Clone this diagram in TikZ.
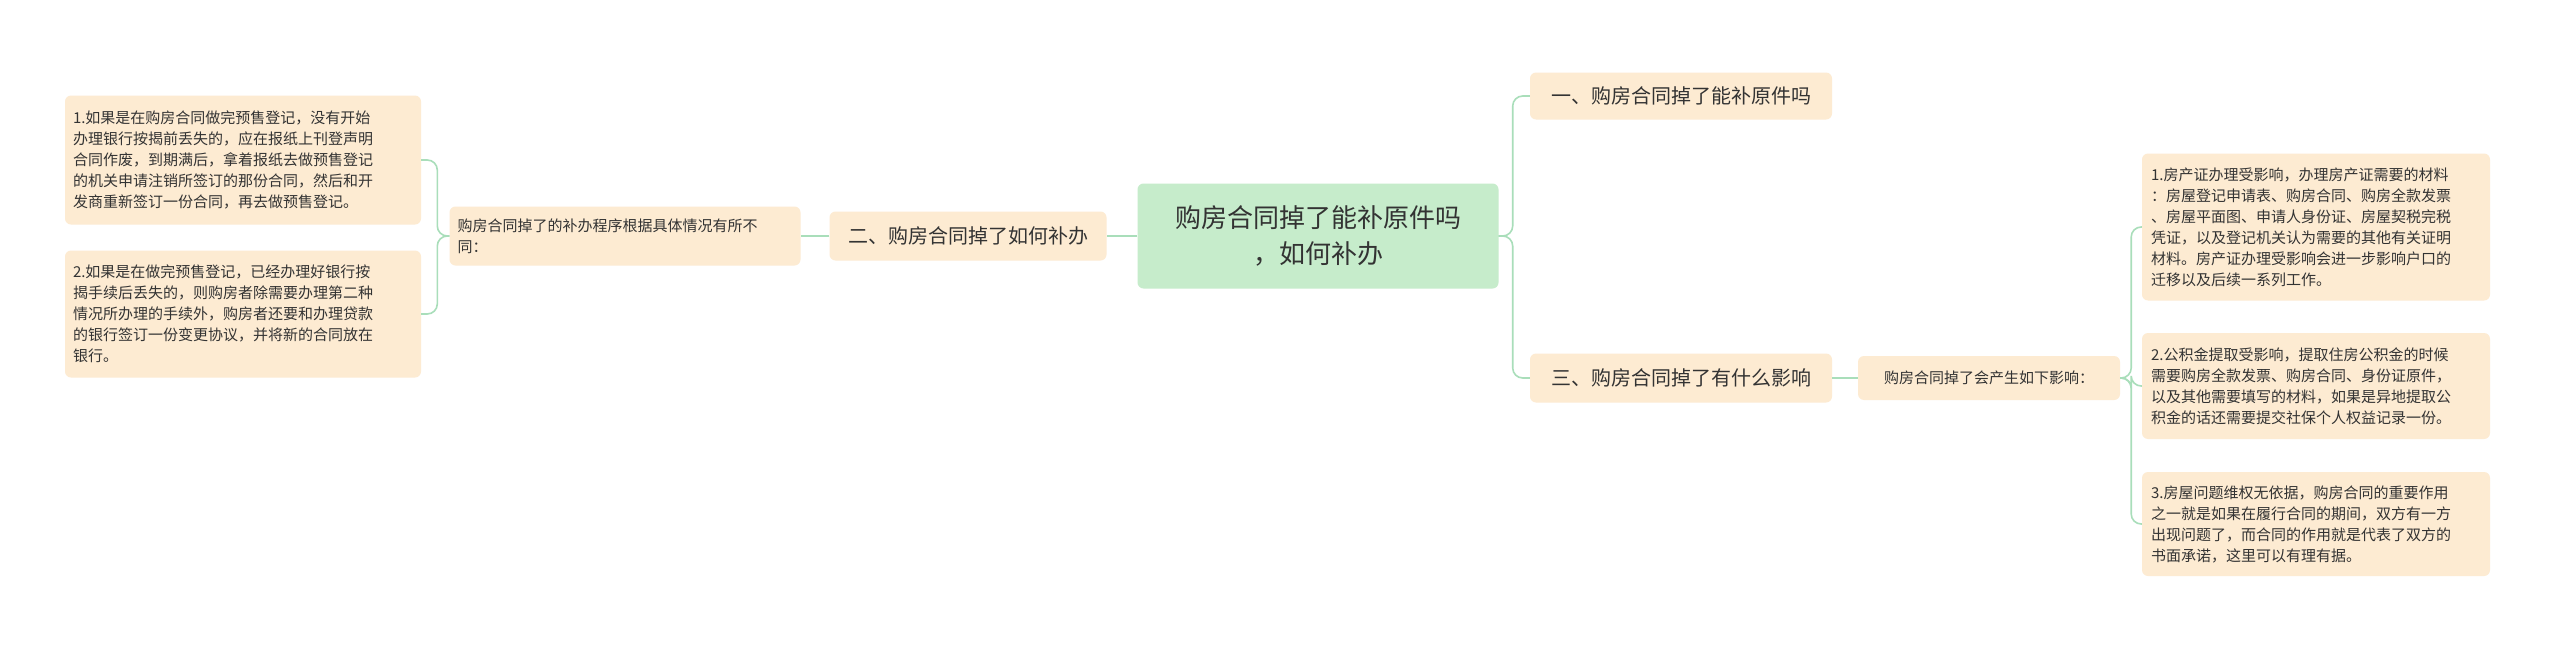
\documentclass[tikz,border=0pt]{standalone}
\usepackage{fontspec}
\setmainfont{Noto Sans CJK SC}
\definecolor{peach}{HTML}{FDEBD2}
\definecolor{mint}{HTML}{C6ECCB}
\definecolor{ln}{HTML}{A9DEBA}
\definecolor{tx}{HTML}{333333}
\begin{document}
\begin{tikzpicture}[x=1pt,y=-1pt,
 box/.style={fill=peach,rounded corners=6pt,text=tx,inner sep=0pt,align=left,anchor=north west},
 lnk/.style={draw=ln,line width=1.6pt,rounded corners=10pt}]
\fill[white] (0,0) rectangle (2560,648);
\useasboundingbox (0,0) rectangle (2560,648);
\node[fill=mint,rounded corners=6pt,text=tx,minimum width=361pt,minimum height=105pt,align=center,font=\fontsize{26}{36}\selectfont] (root) at (1318,236) {购房合同掉了能补原件吗\\，如何补办};
\node[box,minimum width=277pt,minimum height=49pt,anchor=center,font=\fontsize{20}{26}\selectfont] (b2) at (968,236) {二、购房合同掉了如何补办};
\node[box,minimum width=351pt,minimum height=59pt,anchor=center,text width=335pt,font=\fontsize{15}{21}\selectfont] (m2) at (625,236) {购房合同掉了的补办程序根据具体情况有所不\\同：};
\node[box,minimum width=356pt,minimum height=129pt,anchor=center,text width=340pt,font=\fontsize{15}{21}\selectfont] (l1) at (243,160) {1.如果是在购房合同做完预售登记，没有开始\\办理银行按揭前丢失的，应在报纸上刊登声明\\合同作废，到期满后，拿着报纸去做预售登记\\的机关申请注销所签订的那份合同，然后和开\\发商重新签订一份合同，再去做预售登记。};
\node[box,minimum width=356pt,minimum height=127pt,anchor=center,text width=340pt,font=\fontsize{15}{21}\selectfont] (l2) at (243,314) {2.如果是在做完预售登记，已经办理好银行按\\揭手续后丢失的，则购房者除需要办理第二种\\情况所办理的手续外，购房者还要和办理贷款\\的银行签订一份变更协议，并将新的合同放在\\银行。};
\node[box,minimum width=302pt,minimum height=47pt,anchor=center,font=\fontsize{20}{26}\selectfont] (b1) at (1681,96) {一、购房合同掉了能补原件吗};
\node[box,minimum width=302pt,minimum height=49pt,anchor=center,font=\fontsize{20}{26}\selectfont] (b3) at (1681,378) {三、购房合同掉了有什么影响};
\node[box,minimum width=262pt,minimum height=44pt,anchor=center,font=\fontsize{15}{21}\selectfont] (m3) at (1989,378) {购房合同掉了会产生如下影响：};
\node[box,minimum width=348pt,minimum height=147pt,anchor=center,text width=330pt,font=\fontsize{15}{21}\selectfont] (r1) at (2316,227) {1.房产证办理受影响，办理房产证需要的材料\\：房屋登记申请表、购房合同、购房全款发票\\、房屋平面图、申请人身份证、房屋契税完税\\凭证，以及登记机关认为需要的其他有关证明\\材料。房产证办理受影响会进一步影响户口的\\迁移以及后续一系列工作。};
\node[box,minimum width=348pt,minimum height=106pt,anchor=center,text width=330pt,font=\fontsize{15}{21}\selectfont] (r2) at (2316,386) {2.公积金提取受影响，提取住房公积金的时候\\需要购房全款发票、购房合同、身份证原件，\\以及其他需要填写的材料，如果是异地提取公\\积金的话还需要提交社保个人权益记录一份。};
\node[box,minimum width=348pt,minimum height=104pt,anchor=center,text width=330pt,font=\fontsize{15}{21}\selectfont] (r3) at (2316,524) {3.房屋问题维权无依据，购房合同的重要作用\\之一就是如果在履行合同的期间，双方有一方\\出现问题了，而合同的作用就是代表了双方的\\书面承诺，这里可以有理有据。};
\draw[lnk] (root.west) -- (b2.east);
\draw[lnk] (b2.west) -- (m2.east);
\draw[lnk] (m2.west) -- ++(-12,0) |- (l1.east);
\draw[lnk] (m2.west) -- ++(-12,0) |- (l2.east);
\draw[lnk] (root.east) -- ++(14,0) |- (b1.west);
\draw[lnk] (root.east) -- ++(14,0) |- (b3.west);
\draw[lnk] (b3.east) -- (m3.west);
\draw[lnk] (m3.east) -- ++(11,0) |- (r1.west);
\draw[lnk] (m3.east) -- ++(11,0) |- (r2.west);
\draw[lnk] (m3.east) -- ++(11,0) |- (r3.west);
\end{tikzpicture}
\end{document}
